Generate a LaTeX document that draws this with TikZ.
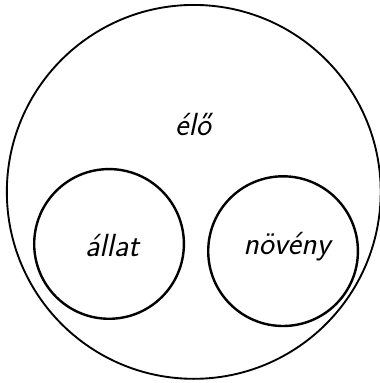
\documentclass[tikz,border=0pt]{standalone}
\usepackage{tikz}
\usetikzlibrary{positioning}
\tikzset{
  halmaz/.style={line width=1.4pt},
  reszhalmaz/.style={line width=1.8pt},
  felirat/.style={font=\fontsize{24}{28}\selectfont\sffamily\itshape}
}

\begin{document}
\begin{tikzpicture}
    \useasboundingbox (0,0) rectangle (10,10.08);
    \draw[halmaz] (5.1,5.03) circle (4.92);
    \draw[reszhalmaz] (2.87,3.66) circle (1.97);
    \draw[reszhalmaz] (7.45,3.47) circle (1.97);
    \node[felirat] (elo) at (5.08,6.79) {élő};
    \node[felirat] (allat) at (2.95,3.63) {állat};
    \node[felirat] (noveny) at (7.55,3.58) {növény};
\end{tikzpicture}
\end{document}
